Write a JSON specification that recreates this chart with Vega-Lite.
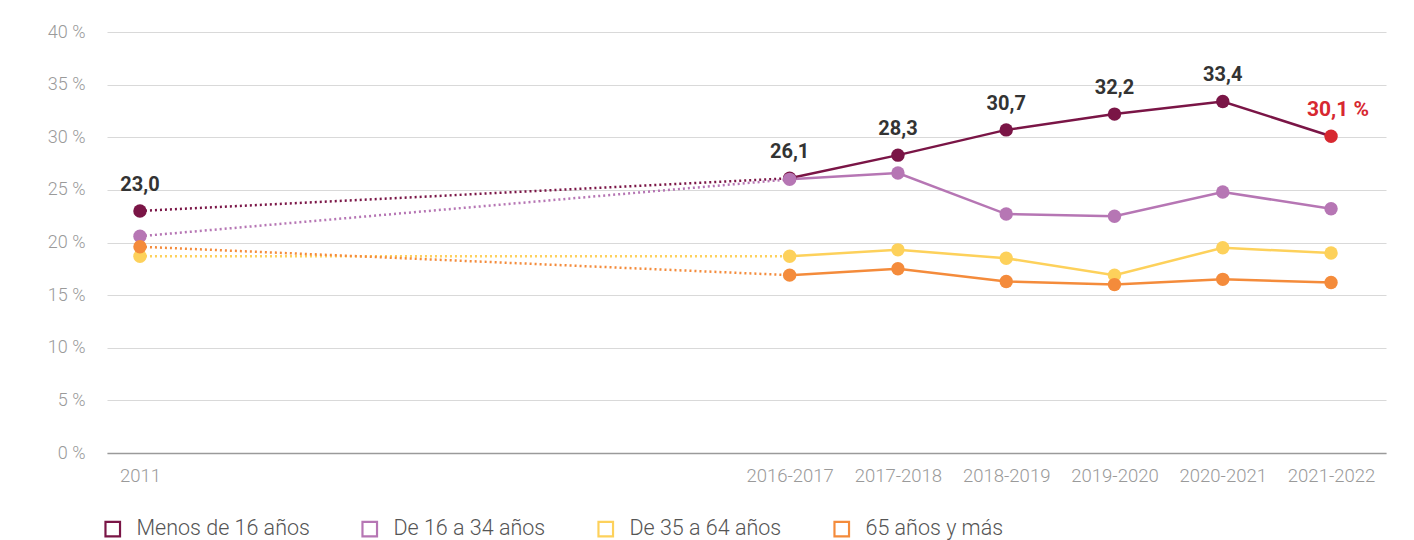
{
  "$schema": "https://vega.github.io/schema/vega-lite/v6.json",
  "width": 1279,
  "height": 421,
  "autosize": {"type": "pad"},
  "padding": {"left": 47, "top": 23, "right": 10, "bottom": 5},
  "background": "white",
  "data": {
    "values": [
      {"periodo": "2011", "grupo": "Menos de 16 años", "valor": 23.0},
      {"periodo": "2016-2017", "grupo": "Menos de 16 años", "valor": 26.1},
      {"periodo": "2017-2018", "grupo": "Menos de 16 años", "valor": 28.3},
      {"periodo": "2018-2019", "grupo": "Menos de 16 años", "valor": 30.7},
      {"periodo": "2019-2020", "grupo": "Menos de 16 años", "valor": 32.2},
      {"periodo": "2020-2021", "grupo": "Menos de 16 años", "valor": 33.4},
      {"periodo": "2021-2022", "grupo": "Menos de 16 años", "valor": 30.1},
      {"periodo": "2011", "grupo": "De 16 a 34 años", "valor": 20.6},
      {"periodo": "2016-2017", "grupo": "De 16 a 34 años", "valor": 26.0},
      {"periodo": "2017-2018", "grupo": "De 16 a 34 años", "valor": 26.6},
      {"periodo": "2018-2019", "grupo": "De 16 a 34 años", "valor": 22.7},
      {"periodo": "2019-2020", "grupo": "De 16 a 34 años", "valor": 22.5},
      {"periodo": "2020-2021", "grupo": "De 16 a 34 años", "valor": 24.8},
      {"periodo": "2021-2022", "grupo": "De 16 a 34 años", "valor": 23.2},
      {"periodo": "2011", "grupo": "De 35 a 64 años", "valor": 18.7},
      {"periodo": "2016-2017", "grupo": "De 35 a 64 años", "valor": 18.7},
      {"periodo": "2017-2018", "grupo": "De 35 a 64 años", "valor": 19.3},
      {"periodo": "2018-2019", "grupo": "De 35 a 64 años", "valor": 18.5},
      {"periodo": "2019-2020", "grupo": "De 35 a 64 años", "valor": 16.9},
      {"periodo": "2020-2021", "grupo": "De 35 a 64 años", "valor": 19.5},
      {"periodo": "2021-2022", "grupo": "De 35 a 64 años", "valor": 19.0},
      {"periodo": "2011", "grupo": "65 años y más", "valor": 19.6},
      {"periodo": "2016-2017", "grupo": "65 años y más", "valor": 16.9},
      {"periodo": "2017-2018", "grupo": "65 años y más", "valor": 17.5},
      {"periodo": "2018-2019", "grupo": "65 años y más", "valor": 16.3},
      {"periodo": "2019-2020", "grupo": "65 años y más", "valor": 16.0},
      {"periodo": "2020-2021", "grupo": "65 años y más", "valor": 16.5},
      {"periodo": "2021-2022", "grupo": "65 años y más", "valor": 16.2}
    ]
  },
  "encoding": {
    "x": {
      "field": "periodo",
      "type": "ordinal",
      "title": null,
      "scale": {
        "type": "point",
        "domain": ["2011", "_1", "_2", "_3", "_4", "_5", "2016-2017", "2017-2018", "2018-2019", "2019-2020", "2020-2021", "2021-2022"],
        "padding": 0.406,
        "align": 0.375
      },
      "axis": {
        "labelExpr": "indexof(datum.label, '_') === 0 ? '' : datum.label",
        "labelAngle": 0,
        "ticks": false,
        "grid": false,
        "domainColor": "#9a9a9a",
        "domainWidth": 1.5,
        "labelColor": "#9a9a9a",
        "labelFont": "Roboto",
        "labelFontWeight": 300,
        "labelFontSize": 18.5,
        "labelPadding": 13
      }
    },
    "y": {
      "field": "valor",
      "type": "quantitative",
      "title": null,
      "scale": {"domain": [0, 40], "nice": false, "zero": true},
      "axis": {
        "values": [0, 5, 10, 15, 20, 25, 30, 35, 40],
        "labelExpr": "datum.value + ' %'",
        "domain": false,
        "ticks": false,
        "grid": true,
        "gridColor": "#d9d9d9",
        "gridWidth": 1,
        "labelColor": "#9a9a9a",
        "labelFont": "Roboto",
        "labelFontWeight": 300,
        "labelFontSize": 18,
        "labelPadding": 22
      }
    }
  },
  "layer": [
    {
      "transform": [{"filter": "datum.periodo === '2011' || datum.periodo === '2016-2017'"}],
      "mark": {"type": "line", "strokeWidth": 2.5, "strokeDash": [2, 3]},
      "encoding": {
        "color": {"field": "grupo", "type": "nominal"}
      }
    },
    {
      "transform": [{"filter": "datum.periodo !== '2011'"}],
      "mark": {"type": "line", "strokeWidth": 2.5},
      "encoding": {
        "color": {
          "field": "grupo",
          "type": "nominal",
          "title": null,
          "scale": {
            "domain": ["Menos de 16 años", "De 16 a 34 años", "De 35 a 64 años", "65 años y más"],
            "range": ["#7a1546", "#b676b4", "#fdd15b", "#f48b3b"]
          },
          "legend": {
            "orient": "none",
            "legendX": -5,
            "legendY": 486,
            "direction": "horizontal",
            "symbolType": "M-1,-1H1V1H-1Z M-0.74,-0.74V0.74H0.74V-0.74Z",
            "symbolSize": 280,
            "symbolStrokeWidth": 0,
            "labelFont": "Roboto",
            "labelFontWeight": 300,
            "labelFontSize": 21.5,
            "labelColor": "#555555",
            "labelOffset": 13,
            "labelLimit": 400,
            "columnPadding": 49,
            "encode": {
              "symbols": {
                "update": {
                  "fill": {"scale": "color", "field": "value"},
                  "strokeWidth": {"value": 0}
                }
              }
            }
          }
        }
      }
    },
    {
      "mark": {"type": "circle", "size": 180, "opacity": 1},
      "encoding": {
        "fill": {
          "condition": {"test": "datum.grupo === 'Menos de 16 años' && datum.periodo === '2021-2022'", "value": "#d72830"},
          "field": "grupo",
          "type": "nominal",
          "legend": null,
          "scale": {
            "domain": ["Menos de 16 años", "De 16 a 34 años", "De 35 a 64 años", "65 años y más"],
            "range": ["#7a1546", "#b676b4", "#fdd15b", "#f48b3b"]
          }
        }
      }
    },
    {
      "transform": [{"filter": "datum.grupo === 'Menos de 16 años' && datum.periodo !== '2021-2022'"}],
      "mark": {
        "type": "text",
        "dy": -26,
        "font": "Roboto",
        "fontWeight": "bold",
        "fontSize": 20,
        "fill": "#333333",
        "text": {"expr": "replace(format(datum.valor, '.1f'), '.', ',')"}
      }
    },
    {
      "transform": [{"filter": "datum.grupo === 'Menos de 16 años' && datum.periodo === '2021-2022'"}],
      "mark": {
        "type": "text",
        "dy": -26,
        "dx": 7,
        "font": "Roboto",
        "fontWeight": "bold",
        "fontSize": 21,
        "fill": "#d72830",
        "text": {"expr": "replace(format(datum.valor, '.1f'), '.', ',') + ' %'"}
      }
    }
  ],
  "config": {
    "view": {"stroke": null}
  }
}
